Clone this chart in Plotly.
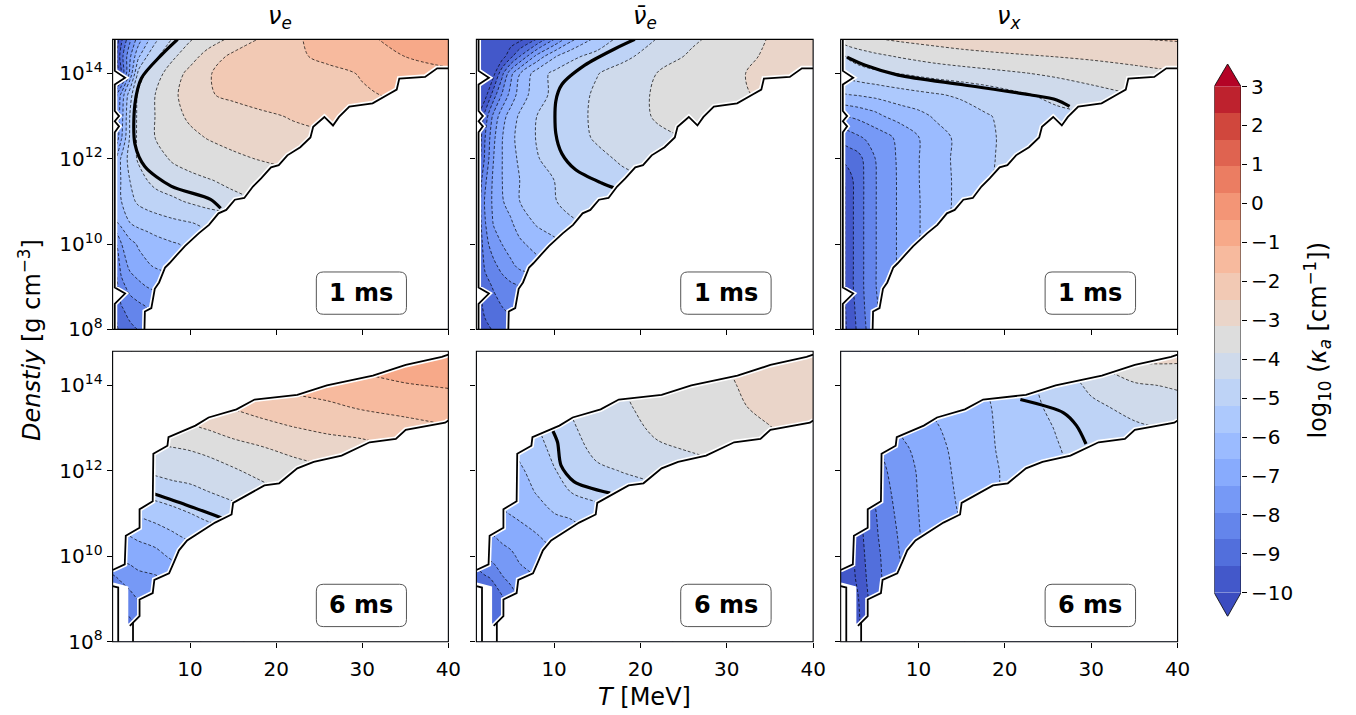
import plotly.graph_objects as go

N = None

# ---------------- grid of the opacity tables ----------------
T_MEV = [1, 1.5, 2, 3, 4, 5, 6, 8, 10, 12, 15, 18, 22, 26, 30, 35, 40]
LOG_RHO = [8, 8.5, 9, 9.5, 10, 10.5, 11, 11.5, 12, 12.5, 13, 13.5, 14, 14.4, 14.8]

# log10(kappa_a / cm^-1); rows follow LOG_RHO, columns follow T_MEV (None = no data)
kappa_nue_1ms = [
    [-9.8, -9.4, -9.1, -8.8, -8.6, -8.4, N, N, N, N, N, N, N, N, N, N, N],
    [-9.6, -9.1, -8.7, -8.35, -8.15, -7.95, -7.8, N, N, N, N, N, N, N, N, N, N],
    [-9.5, -8.8, -8.2, -7.7, -7.45, -7.25, -7.1, -6.9, N, N, N, N, N, N, N, N, N],
    [-9.3, -8.4, -7.7, -7.1, -6.85, -6.65, -6.5, -6.3, N, N, N, N, N, N, N, N, N],
    [-8.5, -7.9, -7.3, -6.8, -6.5, -6.32, -6.15, -5.95, -5.8, N, N, N, N, N, N, N, N],
    [-6.9, -6.62, -6.4, -5.9, -5.7, -5.6, -5.5, -5.35, -5.23, -5.1, -4.9, N, N, N, N, N, N],
    [-6.6, -6.2, -5.9, -5.4, -5.1, -4.95, -4.85, -4.65, -4.45, -4.25, -4.0, -3.85, N, N, N, N, N],
    [-6.8, -6.35, -5.85, -5.21, -4.85, -4.53, -4.3, -4.12, -4.0, -3.88, -3.7, -3.55, -3.4, N, N, N, N],
    [-7.0, -6.45, -5.8, -4.95, -4.42, -4.22, -4.05, -3.77, -3.6, -3.45, -3.28, -3.13, -2.95, N, N, N, N],
    [-8.2, -7.6, -6.7, -5.15, -4.35, -4.1, -3.82, -3.5, -3.3, -3.13, -2.95, -2.8, -2.65, -2.55, N, N, N],
    [-8.3, -7.8, -6.9, -5.2, -4.35, -4.1, -3.82, -3.35, -3.05, -2.9, -2.75, -2.6, -2.42, -2.3, -2.2, N, N],
    [-8.6, -7.95, -7.1, -5.5, -4.35, -4.1, -3.82, -3.27, -2.9, -2.53, -2.35, -2.2, -2.05, -1.95, -1.85, -1.7, N],
    [-10.8, -10.3, -9.3, -7.1, -5.0, -4.35, -4.1, -3.5, -2.95, -2.5, -2.35, -2.25, -2.1, -1.95, -1.75, -1.45, -1.25],
    [-10.8, -10.0, -8.95, -7.4, -6.0, -5.2, -4.65, -3.95, -3.45, -2.9, -2.3, -2.1, -1.9, -1.65, -1.35, -1.1, -0.85],
    [-10.8, -10.3, -9.5, -8.1, -6.9, -6.1, -5.35, -4.45, -3.9, -3.52, -2.99, -2.44, -1.9, -1.5, -1.2, -0.95, -0.6],
]

kappa_nuebar_1ms = [
    [-10.1, -9.8, -9.5, -9.25, -9.05, -8.9, N, N, N, N, N, N, N, N, N, N, N],
    [-9.9, -9.45, -9.15, -8.95, -8.65, -8.45, -8.3, N, N, N, N, N, N, N, N, N, N],
    [-9.7, -9.3, -8.95, -8.55, -8.3, -8.1, -7.95, -7.75, N, N, N, N, N, N, N, N, N],
    [-9.6, -9.1, -8.5, -8.1, -7.7, -7.4, -7.1, -6.8, N, N, N, N, N, N, N, N, N],
    [-9.5, -8.9, -8.2, -7.6, -7.25, -6.95, -6.7, -6.35, -6.1, N, N, N, N, N, N, N, N],
    [-9.4, -8.7, -8.0, -7.2, -6.85, -6.65, -6.3, -5.8, -5.5, -5.3, -5.1, N, N, N, N, N, N],
    [-9.4, -8.6, -7.85, -7.1, -6.62, -6.35, -5.9, -5.55, -5.25, -5.0, -4.8, -4.7, N, N, N, N, N],
    [-9.6, -8.8, -8.1, -7.1, -6.58, -6.2, -5.9, -5.55, -5.21, -5.0, -4.8, -4.65, -4.5, N, N, N, N],
    [-10.1, -9.3, -8.5, -7.26, -6.58, -6.1, -5.8, -5.25, -5.0, -4.82, -4.65, -4.45, -4.25, N, N, N, N],
    [-10.3, -9.45, -8.65, -7.4, -6.6, -6.05, -5.7, -5.17, -4.92, -4.72, -4.46, -4.2, -3.95, -3.8, N, N, N],
    [-10.6, -9.8, -9.05, -7.75, -6.85, -6.25, -5.8, -5.21, -4.95, -4.75, -4.4, -4.1, -3.78, -3.5, -3.3, N, N],
    [-10.8, -10.5, -10.3, -8.95, -7.85, -7.0, -6.3, -5.5, -5.05, -4.8, -4.42, -4.15, -3.75, -3.6, -3.3, -3.05, N],
    [-11.0, -10.8, -10.6, -10.2, -8.8, -7.45, -6.6, -5.55, -5.05, -4.85, -4.55, -4.25, -3.82, -3.55, -3.28, -3.0, -2.85],
    [-11.3, -11.1, -10.9, -10.6, -10.3, -9.5, -8.65, -7.05, -5.98, -5.35, -4.98, -4.68, -4.2, -3.72, -3.45, -3.05, -2.75],
    [-11.5, -11.3, -11.1, -10.8, -10.6, -10.4, -10.2, -9.28, -7.95, -6.75, -5.65, -4.95, -4.5, -3.96, -3.55, -3.12, -2.8],
]

kappa_nux_1ms = [
    [-10.4, -10.1, -9.75, -9.2, -8.6, -8.1, N, N, N, N, N, N, N, N, N, N, N],
    [-10.35, -10.05, -9.7, -9.1, -8.5, -8.05, -7.75, N, N, N, N, N, N, N, N, N, N],
    [-10.3, -10.0, -9.6, -9.0, -8.45, -7.98, -7.7, -7.1, N, N, N, N, N, N, N, N, N],
    [-10.3, -10.0, -9.6, -9.0, -8.45, -7.98, -7.7, -7.1, N, N, N, N, N, N, N, N, N],
    [-10.3, -10.0, -9.6, -9.0, -8.45, -7.98, -7.7, -7.1, -6.62, N, N, N, N, N, N, N, N],
    [-10.3, -10.0, -9.6, -9.0, -8.45, -7.98, -7.7, -7.1, -6.62, -6.2, -5.7, N, N, N, N, N, N],
    [-10.3, -10.0, -9.6, -9.0, -8.45, -7.98, -7.7, -7.1, -6.62, -6.2, -5.7, -5.3, N, N, N, N, N],
    [-10.2, -9.95, -9.55, -9.0, -8.45, -7.98, -7.7, -7.1, -6.6, -6.2, -5.7, -5.3, -4.9, N, N, N, N],
    [-9.15, -9.1, -9.05, -8.9, -8.4, -7.95, -7.68, -7.08, -6.6, -6.18, -5.68, -5.3, -4.9, N, N, N, N],
    [-8.4, -8.35, -8.25, -8.05, -7.85, -7.65, -7.5, -7.05, -6.6, -6.18, -5.7, -5.3, -4.95, -4.65, N, N, N],
    [-7.3, -7.28, -7.22, -7.1, -6.95, -6.8, -6.58, -6.3, -6.1, -5.8, -5.55, -5.25, -4.95, -4.7, -4.55, N, N],
    [-5.95, -5.93, -5.9, -5.85, -5.78, -5.72, -5.65, -5.5, -5.38, -5.27, -5.1, -4.9, -4.6, -4.35, -4.1, -3.85, N],
    [-5.05, -5.0, -4.92, -4.82, -4.74, -4.68, -4.6, -4.5, -4.38, -4.27, -4.15, -4.03, -3.88, -3.72, -3.55, -3.35, -3.2],
    [-4.6, -4.55, -4.42, -4.25, -4.12, -4.0, -3.92, -3.78, -3.66, -3.55, -3.42, -3.33, -3.23, -3.14, -3.05, -2.95, -2.85],
    [-3.6, -3.5, -3.42, -3.3, -3.22, -3.18, -3.15, -3.05, -2.97, -2.9, -2.8, -2.72, -2.64, -2.58, -2.53, -2.49, -2.42],
]

kappa_nue_6ms = [
    [N, -9.5, -9.3, -9.2, -9.0, -8.8, N, N, N, N, N, N, N, N, N, N, N],
    [N, -9.1, -8.9, -8.7, -8.5, -8.1, N, N, N, N, N, N, N, N, N, N, N],
    [-8.7, -8.55, -8.35, -8.2, -7.9, -7.65, -7.6, N, N, N, N, N, N, N, N, N, N],
    [-8.05, -7.95, -7.85, -7.6, -7.45, -7.38, -7.33, -7.05, N, N, N, N, N, N, N, N, N],
    [-7.35, -7.25, -7.1, -7.05, -6.9, -6.88, -6.8, -6.45, -6.3, N, N, N, N, N, N, N, N],
    [N, -6.75, -6.65, -6.55, -6.45, -6.35, -6.25, -5.98, -5.7, -5.5, -5.35, N, N, N, N, N, N],
    [N, N, -6.1, -5.85, -5.8, -5.7, -5.6, -5.42, -5.22, -5.05, -4.85, -4.6, N, N, N, N, N],
    [N, N, N, -5.3, -5.15, -5.0, -4.95, -4.8, -4.7, -4.55, -4.3, -4.12, -3.75, N, N, N, N],
    [N, N, N, N, N, -4.45, -4.4, -4.3, -4.25, -4.15, -3.93, -3.65, -3.45, -3.25, -3.0, N, N],
    [N, N, N, N, N, -3.95, -3.95, -3.9, -3.82, -3.7, -3.42, -3.25, -3.0, -2.8, -2.75, -2.45, -2.2],
    [N, N, N, N, N, N, -3.55, -3.35, -3.25, -3.12, -2.9, -2.75, -2.5, -2.35, -2.2, -2.05, -1.85],
    [N, N, N, N, N, N, N, -2.8, -2.75, -2.6, -2.42, -2.2, -2.05, -1.9, -1.72, -1.55, -1.45],
    [N, N, N, N, N, N, N, N, N, N, -1.9, -1.75, -1.6, -1.5, -1.3, -1.15, -1.05],
    [N, N, N, N, N, N, N, N, N, N, N, N, -1.25, -1.13, -1.02, -0.85, -0.75],
    [N, N, N, N, N, N, N, N, N, N, N, N, N, -0.85, -0.75, -0.6, -0.45],
]

kappa_nuebar_6ms = [
    [N, -9.6, -9.55, -9.5, -9.35, N, N, N, N, N, N, N, N, N, N, N, N],
    [N, -9.4, -9.3, -9.2, -9.05, -8.9, N, N, N, N, N, N, N, N, N, N, N],
    [-9.2, -9.15, -9.0, -8.9, -8.75, -8.3, -7.9, N, N, N, N, N, N, N, N, N, N],
    [-8.85, -8.8, -8.72, -8.55, -8.0, -7.75, -7.5, -7.25, N, N, N, N, N, N, N, N, N],
    [-8.35, -8.2, -7.93, -7.65, -7.5, -7.4, -7.15, -6.9, -6.65, N, N, N, N, N, N, N, N],
    [N, -7.6, -7.4, -7.25, -7.1, -6.95, -6.82, -6.6, -6.35, -6.15, N, N, N, N, N, N, N],
    [N, N, -6.8, -6.75, -6.65, -6.55, -6.45, -6.2, -5.9, -5.8, -5.5, -5.2, N, N, N, N, N],
    [N, N, N, -6.45, -6.35, -6.3, -6.2, -5.85, -5.5, -5.2, -4.95, -4.8, -4.65, N, N, N, N],
    [N, N, N, N, N, -6.1, -6.0, -5.65, -5.25, -4.95, -4.65, -4.5, -4.35, -4.1, -4.0, N, N],
    [N, N, N, N, N, -5.95, -5.75, -5.45, -5.05, -4.8, -4.35, -4.25, -3.95, -3.8, -3.6, -3.5, -3.2],
    [N, N, N, N, N, N, -5.55, -5.25, -4.88, -4.63, -4.15, -4.1, -3.7, -3.5, -3.38, -3.18, -2.85],
    [N, N, N, N, N, N, N, -5.05, -4.7, -4.45, -3.95, -3.95, -3.55, -3.35, -3.3, -3.0, -2.7],
    [N, N, N, N, N, N, N, N, N, N, -3.8, -3.8, -3.45, -3.25, -3.22, -2.95, -2.6],
    [N, N, N, N, N, N, N, N, N, N, N, N, -3.35, -3.2, -3.17, -2.9, -2.55],
    [N, N, N, N, N, N, N, N, N, N, N, N, N, -3.15, -3.1, -2.85, -2.5],
]

kappa_nux_6ms = [
    [N, -10.7, -10.55, -10.25, -9.6, N, N, N, N, N, N, N, N, N, N, N, N],
    [N, -10.65, -10.5, -10.15, -9.5, -9.1, N, N, N, N, N, N, N, N, N, N, N],
    [-10.6, -10.6, -10.45, -10.05, -9.4, -9.0, -8.6, N, N, N, N, N, N, N, N, N, N],
    [-10.55, -10.5, -10.35, -9.85, -9.3, -8.9, -8.55, -8.0, N, N, N, N, N, N, N, N, N],
    [-10.5, -10.45, -10.3, -9.75, -9.2, -8.85, -8.5, -7.9, -7.35, N, N, N, N, N, N, N, N],
    [N, -10.4, -10.25, -9.65, -9.1, -8.75, -8.4, -7.82, -7.3, -7.0, N, N, N, N, N, N, N],
    [N, N, -10.2, -9.6, -9.0, -8.68, -8.3, -7.72, -7.27, -6.95, -6.52, N, N, N, N, N, N],
    [N, N, N, -9.55, -8.9, -8.55, -8.2, -7.6, -7.24, -6.9, -6.45, -6.1, -5.6, N, N, N, N],
    [N, N, N, N, N, -8.45, -8.05, -7.5, -7.22, -6.85, -6.4, -6.05, -5.6, -5.3, -5.05, N, N],
    [N, N, N, N, N, -8.3, -7.85, -7.38, -7.15, -6.78, -6.35, -6.0, -5.55, -5.25, -4.95, -4.85, -4.7],
    [N, N, N, N, N, N, -7.7, -7.2, -6.95, -6.65, -6.25, -5.98, -5.5, -5.18, -4.8, -4.62, -4.45],
    [N, N, N, N, N, N, N, -7.0, -6.75, -6.45, -6.1, -5.95, -5.45, -5.05, -4.65, -4.35, -4.15],
    [N, N, N, N, N, N, N, N, N, N, -5.95, -5.85, -5.4, -4.9, -4.4, -3.95, -3.75],
    [N, N, N, N, N, N, N, N, N, N, N, N, -5.2, -4.8, -4.05, -3.35, -3.3],
    [N, N, N, N, N, N, N, N, N, N, N, N, N, -4.5, -3.6, -2.85, -2.8],
]

# critical curves (thick solid lines): temperature [MeV], log10 density
crit_nue_1ms_T = [8.55, 6.65, 4.35, 3.59, 3.59, 4.74, 7.79, 12.37, 13.55]
crit_nue_1ms_rho = [14.8, 14.43, 13.89, 13.28, 12.35, 11.82, 11.36, 11.05, 10.84]
crit_nuebar_1ms_T = [19.35, 17.05, 13.6, 10.9, 10.2, 10.2, 10.9, 12.5, 15.5, 17.4]
crit_nuebar_1ms_rho = [14.8, 14.58, 14.2, 13.74, 13.35, 12.59, 12.12, 11.74, 11.43, 11.28]
crit_nux_1ms_T = [1.74, 3.85, 7.66, 15.3, 22.9, 26.0, 27.5]
crit_nux_1ms_rho = [14.38, 14.19, 13.96, 13.73, 13.5, 13.38, 13.23]
crit_nue_6ms_T = [5.85, 9.47, 13.67]
crit_nue_6ms_rho = [11.46, 11.21, 10.9]
crit_nuebar_6ms_T = [9.85, 10.4, 10.8, 12.3, 16.5]
crit_nuebar_6ms_rho = [12.94, 12.67, 12.13, 11.75, 11.48]
crit_nux_6ms_T = [21.8, 26.8, 28.3, 29.4]
crit_nux_6ms_rho = [13.67, 13.36, 13.06, 12.63]

# region of the (T, rho) plane populated by the simulation at each snapshot
valid_1ms_T = [1.25, 4.7, 4.75, 5.5, 5.9, 6.4, 7.1, 7.6, 8.5, 9.4, 11.0, 12.2, 13.3, 14.2, 15.2, 16.3,
               17.3, 18.25, 19.4, 20.3, 21.3, 22.8, 23.98, 24.3, 25.6, 26.6, 27.3, 28.5, 31.2, 33.1,
               34.0, 34.3, 37.3, 38.7, 40, 40, 1.25, 1.25, 2.45, 1.25, 1.25, 1.75, 1.25, 1.75, 1.25,
               1.25, 2.45, 1.25]
valid_1ms_rho = [8.0, 8.0, 8.42, 8.5, 8.95, 9.1, 9.45, 9.55, 9.75, 9.95, 10.25, 10.45, 10.72, 10.8, 11.04,
                 11.08, 11.35, 11.54, 11.8, 11.85, 12.08, 12.27, 12.5, 12.75, 12.98, 12.78, 12.98, 13.22,
                 13.3, 13.52, 13.62, 13.88, 13.92, 14.12, 14.12, 14.8, 14.8, 14.06, 13.9, 13.74, 13.12,
                 13.0, 12.88, 12.76, 12.62, 8.98, 8.84, 8.6]
valid_6ms_T = [2.53, 3.0, 4.13, 4.13, 5.66, 5.85, 7.56, 8.14, 8.71, 9.66, 12.9, 14.82, 15.0, 18.63, 20.35,
               22.45, 24.36, 27.6, 30.85, 33.9, 35.05, 39.63, 40, 40, 39.24, 35.05, 31.23, 25.89, 22.45,
               17.49, 15.39, 12.15, 10.62, 7.49, 7.37, 5.73, 5.66, 4.13, 4.13, 2.53, 2.41, 1.0, 1.0, 2.53]
valid_6ms_rho = [8.37, 8.37, 8.6, 8.99, 9.14, 9.45, 9.6, 9.87, 10.14, 10.37, 10.79, 10.98, 11.25, 11.66,
                 11.71, 12.06, 12.21, 12.36, 12.67, 12.75, 12.96, 13.13, 13.18, 14.72, 14.67, 14.48, 14.23,
                 14.0, 13.78, 13.67, 13.44, 13.25, 13.06, 12.79, 12.59, 12.4, 11.29, 11.1, 10.67, 10.48,
                 9.81, 9.68, 9.33, 9.25]
edge_6ms_left_T = [1.0, 1.65, 1.65]
edge_6ms_left_rho = [9.3, 9.27, 8.0]
edge_6ms_right_T = [3.37, 3.37]
edge_6ms_right_rho = [8.0, 8.45]

SPECIES = ["<i>ν</i><sub><i>e</i></sub>", "<i>ν\u0304</i><sub><i>e</i></sub>", "<i>ν</i><sub><i>x</i></sub>"]
SNAPSHOTS = ["1 ms", "6 ms"]

GRIDS = [[kappa_nue_1ms, kappa_nuebar_1ms, kappa_nux_1ms],
         [kappa_nue_6ms, kappa_nuebar_6ms, kappa_nux_6ms]]
CRIT = [[(crit_nue_1ms_T, crit_nue_1ms_rho), (crit_nuebar_1ms_T, crit_nuebar_1ms_rho),
         (crit_nux_1ms_T, crit_nux_1ms_rho)],
        [(crit_nue_6ms_T, crit_nue_6ms_rho), (crit_nuebar_6ms_T, crit_nuebar_6ms_rho),
         (crit_nux_6ms_T, crit_nux_6ms_rho)]]
VALID = [(valid_1ms_T, valid_1ms_rho), (valid_6ms_T, valid_6ms_rho)]

T_MIN, T_MAX = 1, 40
RHO_MIN, RHO_MAX = 8, 14.8
LEVEL_MIN, LEVEL_MAX, N_BANDS = -10.0, 3.0, 19
LEVEL_STEP = (LEVEL_MAX - LEVEL_MIN) / N_BANDS
LEVELS = [LEVEL_MIN + i * LEVEL_STEP for i in range(N_BANDS + 1)]

# ---------------- coolwarm colour map ----------------
_CW = [(59, 76, 192), (68, 90, 204), (77, 104, 215), (87, 117, 225), (98, 130, 234), (108, 142, 241),
       (119, 154, 247), (130, 165, 251), (141, 176, 254), (152, 185, 255), (163, 194, 255),
       (174, 201, 253), (184, 208, 249), (194, 213, 244), (204, 217, 238), (213, 219, 230),
       (221, 221, 221), (229, 216, 209), (236, 211, 197), (241, 204, 184), (245, 196, 172),
       (247, 187, 159), (247, 177, 147), (247, 166, 134), (244, 154, 123), (241, 141, 111),
       (236, 127, 99), (229, 112, 89), (222, 96, 77), (213, 80, 66), (203, 62, 56), (192, 40, 47),
       (180, 4, 38)]


def coolwarm(s):
    s = min(max(s, 0.0), 1.0) * (len(_CW) - 1)
    i = min(int(s), len(_CW) - 2)
    f = s - i
    c = [round(a + (b - a) * f) for a, b in zip(_CW[i], _CW[i + 1])]
    return f"rgb({c[0]},{c[1]},{c[2]})"


band_colors = [coolwarm((i + 0.5) / N_BANDS) for i in range(N_BANDS)]
colorscale = []
for i, c in enumerate(band_colors):
    colorscale.append([i / N_BANDS, c])
    colorscale.append([(i + 1) / N_BANDS, c])

# ---------------- layout geometry (pixels) ----------------
W, H = 1356, 715
COL_X = [(113.7, 452.7), (481.0, 821.0), (848.8, 1189.0)]
ROW_Y = [(40.0, 335.0), (357.3, 652.7)]
FONT = "DejaVu Sans"


def xdom(px0, px1):
    return [px0 / W, px1 / W]


def ydom(py_top, py_bot):
    return [1 - py_bot / H, 1 - py_top / H]


fig = go.Figure()
layout = dict(width=W, height=H, margin=dict(l=0, r=0, t=0, b=0), paper_bgcolor="white",
              plot_bgcolor="white", showlegend=False, font=dict(family=FONT, color="black"))
shapes, annotations = [], []


def frame_edge(a, b):
    return (a[0] == b[0] and a[0] in (T_MIN, T_MAX)) or (a[1] == b[1] and a[1] in (RHO_MIN, RHO_MAX))


def outline_path(ts, rs, skip=None):
    pts = list(zip(ts, rs))
    pts.append(pts[0])
    parts, kept = [], False
    for a, b in zip(pts[:-1], pts[1:]):
        if frame_edge(a, b) or (skip is not None and skip(a) and skip(b)):
            kept = False
            continue
        if not kept:
            parts.append(f"M{a[0]},{a[1]}")
        parts.append(f"L{b[0]},{b[1]}")
        kept = True
    return " ".join(parts)


def poly_path(ts, rs):
    return "M" + " L".join(f"{t},{r}" for t, r in zip(ts, rs)) + " Z"


def line_path(ts, rs):
    return "M" + " L".join(f"{t},{r}" for t, r in zip(ts, rs))


tick_font = dict(family=FONT, size=20, color="black")

for row in range(2):
    for col in range(3):
        p = row * 3 + col
        xa = "x" if p == 0 else f"x{p + 1}"
        ya = "y" if p == 0 else f"y{p + 1}"
        xkey = "xaxis" if p == 0 else f"xaxis{p + 1}"
        ykey = "yaxis" if p == 0 else f"yaxis{p + 1}"
        layout[xkey] = dict(domain=xdom(*COL_X[col]), range=[T_MIN, T_MAX], anchor=ya,
                            tickvals=[10, 20, 30, 40], ticks="outside", ticklen=5, tickwidth=1,
                            tickcolor="black", showticklabels=(row == 1), tickfont=tick_font,
                            ticklabelstandoff=4,
                            showgrid=False, zeroline=False, showline=False)
        layout[ykey] = dict(domain=ydom(*ROW_Y[row]), range=[RHO_MIN, RHO_MAX], anchor=xa,
                            tickvals=[8, 10, 12, 14],
                            ticktext=[f"10<sup>{v}</sup>" for v in (8, 10, 12, 14)],
                            ticks="outside", ticklen=5, tickwidth=1, tickcolor="black",
                            showticklabels=(col == 0), tickfont=tick_font,
                            showgrid=False, zeroline=False, showline=False)

        fig.add_trace(go.Contour(
            x=T_MEV, y=LOG_RHO, z=GRIDS[row][col], xaxis=xa, yaxis=ya,
            zmin=LEVEL_MIN, zmax=LEVEL_MAX, colorscale=colorscale, showscale=False,
            autocontour=False, connectgaps=True, hoverinfo="skip",
            contours=dict(start=LEVEL_MIN, end=LEVEL_MAX, size=LEVEL_STEP - 1e-8,
                          coloring="fill", showlines=True),
            line=dict(color="black", width=0.7, dash="3px,2px", smoothing=0.9)))

        ct, cr = CRIT[row][col]
        fig.add_trace(go.Scatter(x=ct, y=cr, xaxis=xa, yaxis=ya, mode="lines", hoverinfo="skip",
                                 line=dict(color="black", width=3.2, shape="spline", smoothing=0.8)))

        vt, vr = VALID[row]
        outer = f"M{T_MIN},{RHO_MIN} L{T_MAX},{RHO_MIN} L{T_MAX},{RHO_MAX} L{T_MIN},{RHO_MAX} Z"
        shapes.append(dict(type="path", path=outer + " " + poly_path(vt, vr), xref=xa, yref=ya,
                           fillcolor="white", fillrule="evenodd", line=dict(width=0), layer="above"))
        shapes.append(dict(type="path", path=outline_path(vt, vr), xref=xa, yref=ya,
                           line=dict(color="white", width=5), layer="above"))
        skip = (lambda q: q[0] <= 3.0 and q[1] <= 9.4) if row == 1 else None
        shapes.append(dict(type="path", path=outline_path(vt, vr, skip), xref=xa, yref=ya,
                           line=dict(color="black", width=1.8), layer="above"))
        if row == 1:
            for et, er in ((edge_6ms_left_T, edge_6ms_left_rho), (edge_6ms_right_T, edge_6ms_right_rho)):
                shapes.append(dict(type="path", path=line_path(et, er), xref=xa, yref=ya,
                                   line=dict(color="black", width=1.8), layer="above"))

        # snapshot label box
        cx, cy, hw, hh = 0.741, 0.125, 45.5 / 339.0, 21.5 / 295.0
        rx, ry = 7 / 339.0, 7 / 295.0
        x0, x1, y0, y1 = cx - hw, cx + hw, cy - hh, cy + hh
        box = (f"M{x0 + rx},{y0} L{x1 - rx},{y0} Q{x1},{y0} {x1},{y0 + ry} L{x1},{y1 - ry} "
               f"Q{x1},{y1} {x1 - rx},{y1} L{x0 + rx},{y1} Q{x0},{y1} {x0},{y1 - ry} "
               f"L{x0},{y0 + ry} Q{x0},{y0} {x0 + rx},{y0} Z")
        shapes.append(dict(type="path", path=box, xref=f"{xa} domain", yref=f"{ya} domain",
                           fillcolor="white", line=dict(color="#555555", width=1), layer="above"))
        annotations.append(dict(text=f"<b>{SNAPSHOTS[row]}</b>", x=cx, y=cy, xref=f"{xa} domain",
                                yref=f"{ya} domain", showarrow=False, xanchor="center", yanchor="middle",
                                font=dict(family=FONT, size=24, color="black")))
        # panel frame
        shapes.append(dict(type="rect", x0=0, x1=1, y0=0, y1=1, xref=f"{xa} domain", yref=f"{ya} domain",
                           line=dict(color="black", width=1.1), fillcolor="rgba(0,0,0,0)", layer="above"))

        if row == 0:
            annotations.append(dict(text=SPECIES[col], x=sum(COL_X[col]) / 2 / W, y=1 - 18 / H,
                                    xref="paper", yref="paper", showarrow=False, xanchor="center",
                                    yanchor="middle", font=dict(family=FONT, size=24)))

# ---------------- colour bar ----------------
CB_X = (1226.0, 1253.0)
CB_Y = (65.0, 627.0)
cb_lo = LEVEL_MIN - (627.0 - 603.0) / 39.6
cb_hi = LEVEL_MAX + (88.0 - 65.0) / 39.6
layout["xaxis7"] = dict(domain=xdom(*CB_X), range=[0, 1], anchor="y7", visible=False)
layout["yaxis7"] = dict(domain=ydom(*CB_Y), range=[cb_lo, cb_hi], anchor="x7", side="right",
                        tickvals=list(range(-10, 4)),
                        ticktext=[(f"\u2212{-v}" if v < 0 else str(v)) for v in range(-10, 4)],
                        ticks="outside", ticklen=5, tickwidth=1, tickcolor="black", tickfont=tick_font,
                        showgrid=False, zeroline=False, showline=False)
mids = [(a + b) / 2 for a, b in zip(LEVELS[:-1], LEVELS[1:])]
fig.add_trace(go.Heatmap(x=[0, 1], y=LEVELS, z=[[m] for m in mids], xaxis="x7", yaxis="y7",
                         colorscale=colorscale, zmin=LEVEL_MIN, zmax=LEVEL_MAX, showscale=False,
                         hoverinfo="skip"))
fig.add_trace(go.Scatter(x=[0, 1, 0.5, 0], y=[LEVEL_MAX, LEVEL_MAX, cb_hi, LEVEL_MAX], xaxis="x7",
                         yaxis="y7", mode="lines", fill="toself", fillcolor=coolwarm(1.0),
                         line=dict(width=0), hoverinfo="skip"))
fig.add_trace(go.Scatter(x=[0, 1, 0.5, 0], y=[LEVEL_MIN, LEVEL_MIN, cb_lo, LEVEL_MIN], xaxis="x7",
                         yaxis="y7", mode="lines", fill="toself", fillcolor=coolwarm(0.0),
                         line=dict(width=0), hoverinfo="skip"))
fig.add_trace(go.Scatter(x=[0, 0.5, 1, 1, 0.5, 0, 0], y=[LEVEL_MIN, cb_lo, LEVEL_MIN, LEVEL_MAX, cb_hi,
                                                          LEVEL_MAX, LEVEL_MIN],
                         xaxis="x7", yaxis="y7", mode="lines", line=dict(color="black", width=0.8),
                         hoverinfo="skip"))

# ---------------- axis titles ----------------
annotations.append(dict(text="<i>T</i> [MeV]", x=651 / W, y=1 - 709 / H, xref="paper", yref="paper",
                        showarrow=False, xanchor="center", yanchor="middle", font=dict(family=FONT, size=24)))
annotations.append(dict(text="<i>Denstiy</i> [g cm<sup>\u22123</sup>]", x=30 / W, y=1 - 346 / H,
                        xref="paper", yref="paper", showarrow=False, textangle=-90, xanchor="center",
                        yanchor="middle", font=dict(family=FONT, size=24)))
annotations.append(dict(text="log<sub>10</sub> (<i>κ</i><sub><i>a</i></sub> [cm<sup>\u22121</sup>])",
                        x=1330 / W, y=1 - 346 / H, xref="paper", yref="paper", showarrow=False,
                        textangle=-90, xanchor="center", yanchor="middle", font=dict(family=FONT, size=24)))

layout["shapes"] = shapes
layout["annotations"] = annotations
fig.update_layout(**layout)
fig.write_html("out.html")
